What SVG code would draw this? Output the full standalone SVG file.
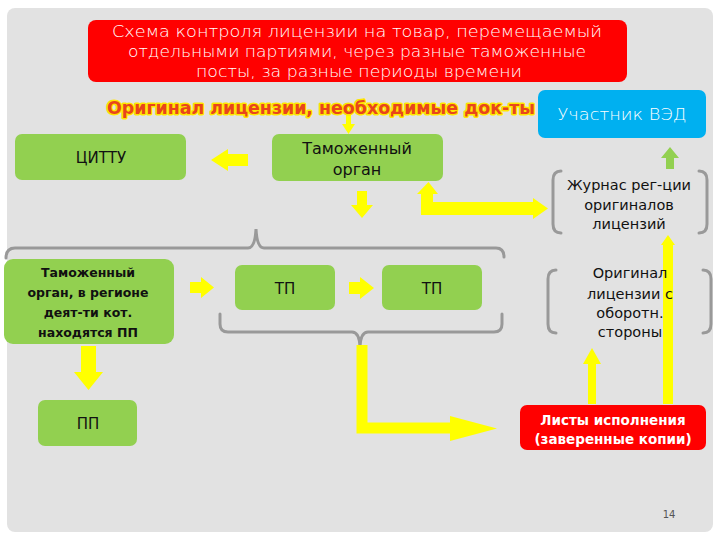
<svg xmlns="http://www.w3.org/2000/svg" width="720" height="540" viewBox="0 0 720 540">
<defs>
<style>
.t{font-family:"DejaVu Sans","Liberation Sans",sans-serif;text-anchor:middle}
.g{fill:#92d050}
.y{fill:#ffff00}
.br{fill:none;stroke:#999;stroke-width:3;stroke-linecap:round}
.dk{fill:#111}
.wh{fill:#fff}
</style>
</defs>
<rect x="0" y="0" width="720" height="540" fill="#fff"/>
<rect x="7" y="8" width="706" height="524" rx="8" fill="#e2e2e2"/>

<g id="title">
<rect x="88" y="20" width="539" height="62" rx="8" fill="#ff0000"/>
<text class="t wh" font-size="16" font-weight="300" x="357" y="37" textLength="490" lengthAdjust="spacingAndGlyphs">Схема контроля лицензии на товар, перемещаемый</text>
<text class="t wh" font-size="16" font-weight="300" x="357" y="57" textLength="458" lengthAdjust="spacingAndGlyphs">отдельными партиями, через разные таможенные</text>
<text class="t wh" font-size="16" font-weight="300" x="359" y="77" textLength="326" lengthAdjust="spacingAndGlyphs">посты, за разные периоды времени</text>
</g>

<g id="connectors">
<!-- title arrow down -->
<polygon class="y" points="346,110 351,110 351,124 355,124 348.5,134 342,124 346,124"/>
<!-- left arrow to ЦИТТУ -->
<polygon class="y" points="248,154 228,154 228,149 211,160 228,171 228,166 248,166"/>
<!-- down arrow below Таможенный -->
<polygon class="y" points="357,191 367,191 367,205 373,205 362,218 351,205 357,205"/>
<!-- elbow double arrow -->
<polygon class="y" points="428.5,182 438,194 433,194 433,202 533,202 533,198 548,208.5 533,219 533,215 421,215 421,194 417,194"/>
<!-- arrow down to ПП -->
<polygon class="y" points="81,346 96,346 96,372 103,372 88.5,390 74,372 81,372"/>
<!-- row arrows -->
<polygon class="y" points="190,282 201,282 201,277 214,287.5 201,298 201,293 190,293"/>
<polygon class="y" points="349,282 360,282 360,277 374,288 360,299 360,294 349,294"/>
<!-- top brace -->
<path class="br" d="M6,258 Q6,248 15,248 L248,248 Q255,248 256,229 Q257,248 264,248 L496,248 Q504,248 504,257"/>
<!-- bottom brace -->
<path class="br" d="M220,314 L220,324 Q220,332 228,332 L352,332 Q359,332 360,346 Q361,332 368,332 L494,332 Q502,332 502,324 L502,314"/>
<!-- big elbow arrow -->
<path d="M362,345 L362,428 L455,428" fill="none" stroke="#ffff00" stroke-width="11"/>
<polygon class="y" points="450,416 497,428.5 450,441"/>
<!-- short up arrow -->
<polygon class="y" points="592,348 601,364 596,364 596,404 588,404 588,364 583,364"/>
<!-- long up line -->
<polygon class="y" points="668,235 675,245 673,245 673,404 663,404 663,245 661,245"/>
<!-- green up arrow -->
<polygon class="g" points="670,147 679,158 674,158 674,169 666,169 666,158 661,158"/>
<!-- brackets -->
<path class="br" d="M561,171 Q553,171 553,180 L553,224 Q553,233 561,233"/>
<path class="br" d="M699,171 Q707,171 707,180 L707,224 Q707,233 699,233"/>
<path class="br" d="M556,270 Q548,270 548,279 L548,324 Q548,333 556,333"/>
<path class="br" d="M703,270 Q711,270 711,279 L711,324 Q711,333 703,333"/>
</g>

<g id="subtitle">
<text class="t" font-size="17" font-weight="bold" x="321" y="114" fill="#e8451c" stroke="#ffe600" stroke-width="3" paint-order="stroke" stroke-linejoin="round" textLength="428" lengthAdjust="spacingAndGlyphs">Оригинал лицензии, необходимые док-ты</text>
</g>

<g id="ved">
<rect x="538" y="90" width="168" height="48" rx="7" fill="#00b0f0"/>
<text class="t wh" font-size="16" font-weight="300" x="622" y="120" textLength="129" lengthAdjust="spacingAndGlyphs">Участник ВЭД</text>
</g>

<g id="cittu">
<rect class="g" x="15" y="134" width="171" height="46" rx="7"/>
<text class="t dk" font-size="15" x="101" y="163">ЦИТТУ</text>
</g>

<g id="customs">
<rect class="g" x="272" y="134" width="171" height="47" rx="7"/>
<text class="t dk" font-size="16" x="357" y="154">Таможенный</text>
<text class="t dk" font-size="16" x="357" y="175">орган</text>
</g>

<g id="journal">
<text class="t dk" font-size="14.5" x="629" y="190">Журнас рег-ции</text>
<text class="t dk" font-size="14.5" x="629" y="210">оригиналов</text>
<text class="t dk" font-size="14.5" x="629" y="229">лицензий</text>
</g>

<g id="region">
<rect class="g" x="4" y="259" width="170" height="85" rx="9"/>
<text class="t dk" font-size="12.5" font-weight="bold" x="88" y="277">Таможенный</text>
<text class="t dk" font-size="12.5" font-weight="bold" x="88" y="297">орган, в регионе</text>
<text class="t dk" font-size="12.5" font-weight="bold" x="88" y="317">деят-ти кот.</text>
<text class="t dk" font-size="12.5" font-weight="bold" x="88" y="337">находятся ПП</text>
</g>

<g id="tp1">
<rect class="g" x="235" y="265" width="100" height="45" rx="7"/>
<text class="t dk" font-size="15" x="285" y="294">ТП</text>
</g>

<g id="tp2">
<rect class="g" x="382" y="265" width="100" height="45" rx="7"/>
<text class="t dk" font-size="15" x="432" y="294">ТП</text>
</g>

<g id="original">
<text class="t dk" font-size="14.5" x="630" y="278">Оригинал</text>
<text class="t dk" font-size="14.5" x="630" y="299">лицензии с</text>
<text class="t dk" font-size="14.5" x="630" y="318">оборотн.</text>
<text class="t dk" font-size="14.5" x="630" y="337">стороны</text>
</g>

<g id="pp">
<rect class="g" x="38" y="400" width="99" height="46" rx="7"/>
<text class="t dk" font-size="15" x="88" y="429">ПП</text>
</g>

<g id="sheets">
<rect x="520" y="405" width="186" height="45" rx="7" fill="#ff0000"/>
<text class="t wh" font-size="13.5" font-weight="bold" x="613" y="425">Листы исполнения</text>
<text class="t wh" font-size="13.5" font-weight="bold" x="613" y="444">(заверенные копии)</text>
</g>

<text class="t" font-size="10" x="669" y="518" fill="#555">14</text>
</svg>
